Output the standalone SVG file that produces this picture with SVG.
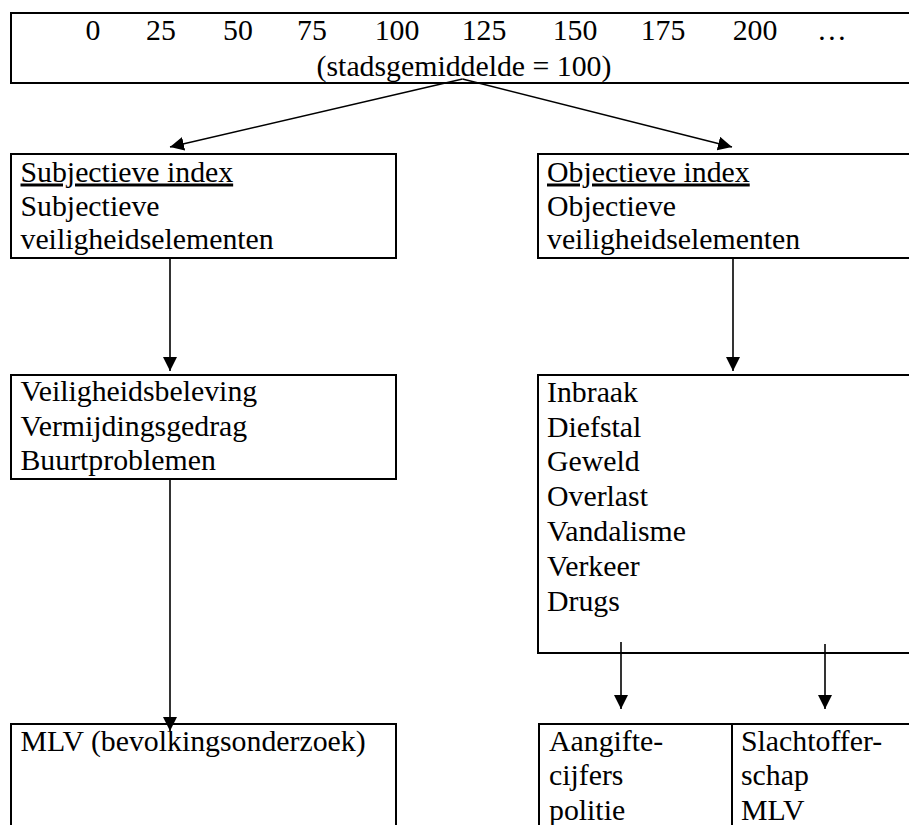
<svg xmlns="http://www.w3.org/2000/svg" width="909" height="825" viewBox="0 0 909 825">
<style>
.box{fill:#fff;stroke:#000;stroke-width:2}
.t{font-family:'Liberation Serif','DejaVu Serif',serif;font-size:29.8px;fill:#000}
.c{text-anchor:middle}
.con line{stroke:#000;stroke-width:1.6}
</style>
<defs>
<marker id="ah" markerUnits="userSpaceOnUse" markerWidth="15" markerHeight="15" refX="14" refY="7" orient="auto">
<path d="M0,0 L14,7 L0,14 Z" fill="#000"/>
</marker>
</defs>
<rect width="909" height="825" fill="#fff"/>
<g font-family="Liberation Serif, DejaVu Serif, serif">
<g id="scale">
<rect class="box" x="11" y="13" width="910" height="70"/>
<text class="t c" y="40"><tspan x="93">0</tspan><tspan x="161">25</tspan><tspan x="238">50</tspan><tspan x="312">75</tspan><tspan x="397">100</tspan><tspan x="484">125</tspan><tspan x="575">150</tspan><tspan x="663">175</tspan><tspan x="755">200</tspan><tspan x="832">…</tspan></text>
<text class="t c" x="464" y="75.5">(stadsgemiddelde = 100)</text>
</g>
<g id="subjectief">
<rect class="box" x="11" y="154" width="385" height="104"/>
<text class="t" x="20.5" y="181.5" text-decoration="underline">Subjectieve index</text>
<text class="t" x="20.5" y="215.5">Subjectieve</text>
<text class="t" x="20.5" y="249">veiligheidselementen</text>
</g>
<g id="objectief">
<rect class="box" x="538" y="154" width="383" height="104"/>
<text class="t" x="547" y="181.5" text-decoration="underline">Objectieve index</text>
<text class="t" x="547" y="215.5">Objectieve</text>
<text class="t" x="547" y="249">veiligheidselementen</text>
</g>
<g id="subjectief-elementen">
<rect class="box" x="11" y="375" width="385" height="104"/>
<text class="t" x="20.5" y="400.5">Veiligheidsbeleving</text>
<text class="t" x="20.5" y="435.5">Vermijdingsgedrag</text>
<text class="t" x="20.5" y="470">Buurtproblemen</text>
</g>
<g id="objectief-elementen">
<rect class="box" x="538" y="375" width="383" height="278"/>
<text class="t" x="547" y="401.5">Inbraak</text>
<text class="t" x="547" y="436.5">Diefstal</text>
<text class="t" x="547" y="471">Geweld</text>
<text class="t" x="547" y="506">Overlast</text>
<text class="t" x="547" y="541">Vandalisme</text>
<text class="t" x="547" y="576">Verkeer</text>
<text class="t" x="547" y="611">Drugs</text>
</g>
<g id="mlv">
<rect class="box" x="11" y="724" width="385" height="120"/>
<text class="t" x="20.5" y="750.5">MLV (bevolkingsonderzoek)</text>
</g>
<g id="aangifte">
<rect class="box" x="539" y="724" width="193" height="120"/>
<text class="t" x="549" y="750.5">Aangifte-</text>
<text class="t" x="549" y="785">cijfers</text>
<text class="t" x="549" y="820">politie</text>
</g>
<g id="slachtoffer">
<rect class="box" x="732" y="724" width="189" height="120"/>
<text class="t" x="741" y="750.5">Slachtoffer-</text>
<text class="t" x="741" y="785">schap</text>
<text class="t" x="741" y="820">MLV</text>
</g>
</g>
<g id="connectors" class="con">
<line x1="462.5" y1="79" x2="170" y2="147" marker-end="url(#ah)"/>
<line x1="462.5" y1="79" x2="732" y2="147" marker-end="url(#ah)"/>
<line x1="170" y1="258" x2="170" y2="371" marker-end="url(#ah)"/>
<line x1="733" y1="258" x2="733" y2="371" marker-end="url(#ah)"/>
<line x1="170" y1="479" x2="170" y2="731" marker-end="url(#ah)"/>
<line x1="621" y1="642" x2="621" y2="709" marker-end="url(#ah)"/>
<line x1="825" y1="644" x2="825" y2="709" marker-end="url(#ah)"/>
</g>
</svg>
